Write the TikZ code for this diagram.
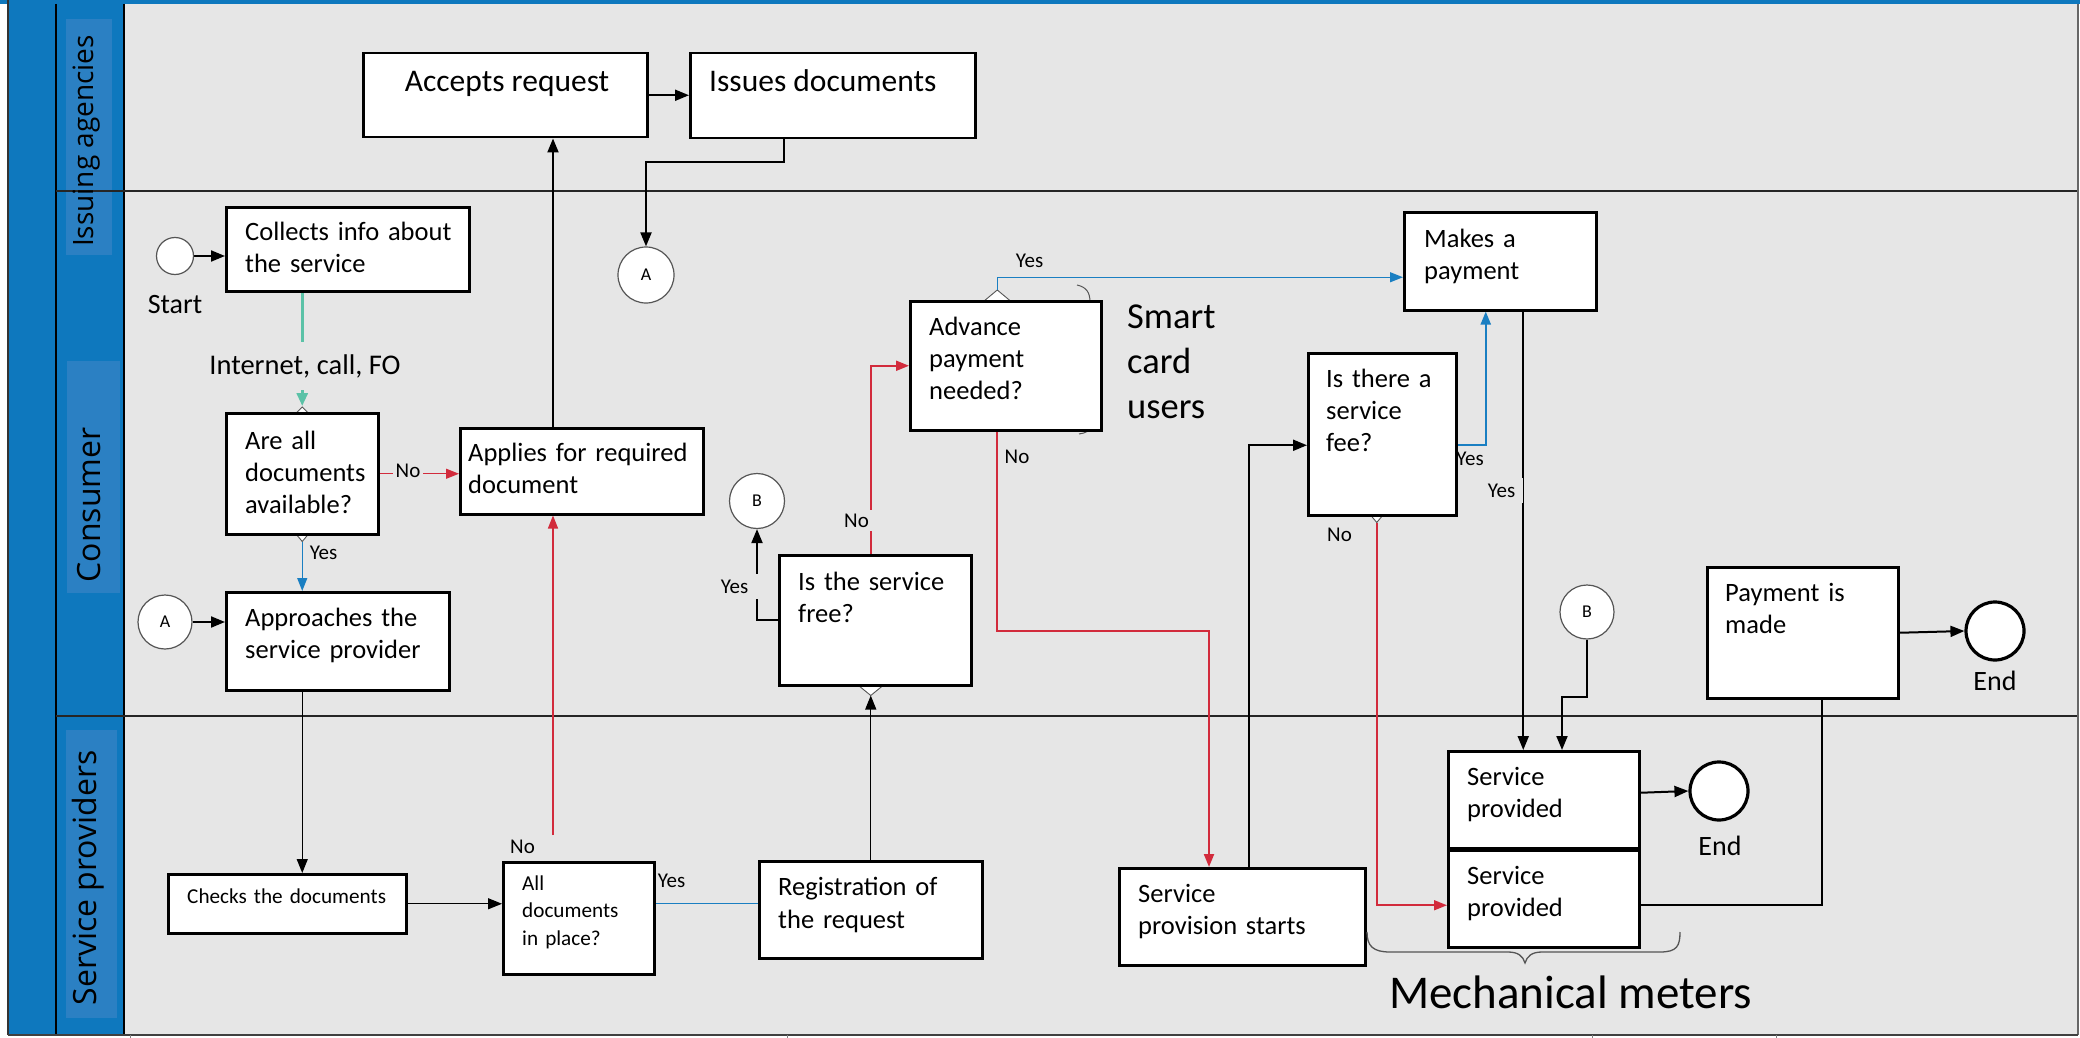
\documentclass[tikz,border=0pt]{standalone}
\usepackage{fontspec}
\setmainfont{Carlito}
\newfontfamily\lanefont{Open Sans}
\usetikzlibrary{arrows.meta,calc}
\definecolor{bggray}{HTML}{E6E6E6}
\definecolor{laneblue}{HTML}{0E78BE}
\definecolor{patchblue}{HTML}{2B80C3}
\definecolor{flowred}{HTML}{D22B3C}
\definecolor{flowblue}{HTML}{1A7FC2}
\definecolor{flowteal}{HTML}{5BC2A7}
\definecolor{circgray}{HTML}{555555}
\pgfdeclarelayer{lanes}
\pgfdeclarelayer{conn}
\pgfsetlayers{lanes,conn,main}
\newcommand{\flowbox}[5]{\node[box,minimum width={(#4)-(#2)},minimum height={(#5)-(#3)}] (#1) at (#2,#3) {};}
\newcommand{\dmd}[3]{\draw[dmdst] (#1) ++(-#2,0) -- ++(#2,-#3) -- ++(#2,#3) -- ++(-#2,#3) -- cycle;}
\begin{document}
\begin{tikzpicture}[x=1pt,y=-1pt,
  box/.style={draw=black,line width=2.5pt,fill=white,rectangle,inner sep=0pt,anchor=north west},
  txt/.style={font=\fontsize{26.5}{32}\selectfont,anchor=base west,inner sep=0pt,text width=260pt,align=left},
  smalltxt/.style={font=\fontsize{21.2}{27.5}\selectfont,anchor=base west,inner sep=0pt,text width=220pt,align=left},
  lbl/.style={font=\fontsize{21}{25}\selectfont,anchor=base,inner sep=0pt},
  gapfill/.style={fill=bggray},
  conncirc/.style={circle,draw=circgray,fill=white,line width=1.2pt,inner sep=0pt,font=\fontsize{18}{20}\selectfont},
  endcirc/.style={circle,draw=black,fill=white,line width=3.2pt,inner sep=0pt,minimum size=58pt},
  tip/.style={-{Triangle[length=14pt,width=11pt]}},
  arr/.style={draw=black,line width=2pt,tip},
  thinarr/.style={draw=black,line width=1.2pt,tip},
  plainline/.style={draw=black,line width=2pt},
  redthin/.style={draw=flowred,line width=1.2pt,-{Triangle[length=13pt,width=10pt]}},
  redthick/.style={draw=flowred,line width=2pt,-{Triangle[length=13pt,width=10pt]}},
  bluethin/.style={draw=flowblue,line width=1.3pt},
  bluethick/.style={draw=flowblue,line width=2pt},
  dmdst/.style={draw=circgray,fill=white,line width=0.9pt},
  lanelabel/.style={font=\lanefont,rotate=90,inner sep=0pt,text=black}
]
\useasboundingbox (0,0) rectangle (2080,1038);

% ---------------- lanes ----------------
\begin{pgfonlayer}{lanes}
  \fill[white] (0,0) rectangle (2080,1038);
  \fill[bggray] (124,4) rectangle (2078,1035);
  \fill[laneblue] (8,0) rectangle (124,1035);
  \fill[laneblue] (0,0) rectangle (2080,4);
  \fill[patchblue] (66,19) rectangle (112,255);
  \fill[patchblue] (67,361) rectangle (120,593);
  \fill[patchblue] (66,730) rectangle (117,1018);
  \draw[black!80,line width=1.5pt] (8,0) -- (8,1035);
  \draw[black,line width=1.8pt] (56,4) -- (56,1035);
  \draw[black,line width=1.8pt] (124,4) -- (124,1035);
  \draw[black!85,line width=1.8pt] (56,191) -- (2078,191);
  \draw[black!85,line width=1.8pt] (56,716) -- (2078,716);
  \draw[black!60,line width=1.2pt] (2078,4) -- (2078,1035);
  \draw[black!75,line width=1.5pt] (8,1035) -- (2078,1035);
  \foreach \tx in {130,787,1592,1776} \draw[black!50,line width=0.8pt] (\tx,1035) -- (\tx,1038);
\end{pgfonlayer}

\node[lanelabel,font=\lanefont\fontsize{28}{30}\selectfont] (lane1) at (87,141) {Issuing agencies};
\node[lanelabel,font=\lanefont\fontsize{32}{34}\selectfont] (lane2) at (89,505) {Consumer};
\node[lanelabel,font=\lanefont\fontsize{32}{34}\selectfont] (lane3) at (88.5,878) {Service providers};

% ---------------- boxes ----------------
\flowbox{accepts}{362}{52}{646}{136}
\flowbox{issues}{689}{52}{974}{137}
\flowbox{collects}{225}{206}{468}{290}
\flowbox{areall}{225}{412}{377}{533}
\flowbox{applies}{459}{427}{702}{513}
\flowbox{approaches}{225}{591}{448}{689}
\flowbox{checks}{167}{873}{405}{932}
\flowbox{alldocs}{502}{861}{653}{973}
\flowbox{registration}{758}{860}{981}{957}
\flowbox{free}{778}{554}{970}{684}
\flowbox{advance}{909}{300}{1100}{429}
\flowbox{makes}{1403}{211}{1595}{309}
\flowbox{fee}{1307}{352}{1455}{514}
\flowbox{sps}{1118}{867}{1364}{964}
\flowbox{spu}{1447}{750}{1638}{847}
\flowbox{spl}{1447}{849}{1638}{946}
\flowbox{payment}{1706}{566}{1897}{697}

% circles
\node[conncirc,minimum size=37pt] (start) at (175,256) {};
\node[conncirc,minimum size=56pt] (Aup) at (646,275) {A};
\node[conncirc,minimum size=54pt] (Alow) at (165,622) {A};
\node[conncirc,minimum size=55pt] (Bup) at (757,501) {B};
\node[conncirc,minimum size=54pt] (Bright) at (1587,612) {B};
\node[endcirc] (end1) at (1719,791) {};
\node[endcirc] (end2) at (1995,631) {};

% box texts
\node[anchor=base,inner sep=0pt,font=\fontsize{31.5}{36}\selectfont] (t-accepts) at (507,92) {Accepts request};
\node[anchor=base west,inner sep=0pt,font=\fontsize{31.5}{36}\selectfont] (t-issues) at (709,92) {Issues documents};
\node[txt] (t-collects) at (245,240) {Collects info about\\the service};
\node[txt] (t-areall) at (245,449) {Are all\\documents\\available?};
\node[txt] (t-applies) at (468,461) {Applies for required\\document};
\node[txt] (t-approaches) at (245,626) {Approaches the\\service provider};
\node[txt] (t-advance) at (929,335) {Advance\\payment\\needed?};
\node[txt] (t-free) at (798,590) {Is the service\\free?};
\node[txt] (t-makes) at (1424,247) {Makes a\\payment};
\node[txt] (t-fee) at (1326,387) {Is there a\\service\\fee?};
\node[txt] (t-payment) at (1725,601) {Payment is\\made};
\node[txt,font=\fontsize{26.5}{33}\selectfont] (t-registration) at (778,895) {Registration of\\the request};
\node[txt] (t-sps) at (1138,902) {Service\\provision starts};
\node[txt] (t-spu) at (1467,785) {Service\\provided};
\node[txt] (t-spl) at (1467,884) {Service\\provided};
\node[smalltxt] (t-checks) at (187,903) {Checks the documents};
\node[smalltxt] (t-alldocs) at (522,890) {All\\documents\\in place?};

% free texts
\node[anchor=base,inner sep=0pt,font=\fontsize{28}{32}\selectfont] (t-start) at (175,313) {Start};
\node[anchor=base,inner sep=0pt,font=\fontsize{28}{32}\selectfont] (t-end1) at (1720,855) {End};
\node[anchor=base,inner sep=0pt,font=\fontsize{28}{32}\selectfont] (t-end2) at (1995,690) {End};
\node[anchor=base west,inner sep=0pt,text width=200pt,align=left,font=\fontsize{36.5}{45}\selectfont] (t-smart) at (1127,328) {Smart\\card\\users};
\node[anchor=base west,inner sep=0pt,font=\fontsize{47}{52}\selectfont] (t-mech) at (1389,1008) {Mechanical meters};

% brace under service provided
\draw[circgray,line width=1.3pt] (1367,932) .. controls (1367,946) and (1373,952) .. (1390,952) -- (1508,952) .. controls (1518,952) and (1523,956) .. (1525,963) .. controls (1527,956) and (1532,952) .. (1542,952) -- (1660,952) .. controls (1677,952) and (1680,946) .. (1680,932);

% ---------------- connectors ----------------
\coordinate (cx) at (553,0);
\coordinate (ib) at (784,162);
\coordinate (nostart) at (553,835);
\coordinate (rb) at (1209,631);
\coordinate (bb) at (1562,697);

\begin{pgfonlayer}{conn}
  % smart card bracket (partly hidden)
  \draw[circgray,line width=1pt] (1077,285) .. controls (1086,287) and (1090,292) .. (1090,302) -- (1090,426) .. controls (1090,431) and (1086,433) .. (1079,434);
  % diamonds
  \dmd{areall.north}{5}{5}
  \dmd{areall.south}{5}{6}
  \dmd{$(advance.north)+(-8.5,0)$}{12}{10}
  \dmd{free.south -| registration.north}{11}{9}
  \dmd{$(fee.south)+(-5.5,0)$}{5}{6}

  \draw[arr] (start.east) -- (start.east -| collects.west);
  \draw[draw=flowteal,line width=3pt,-{Triangle[length=13pt,width=11pt]}] (collects.south -| areall.north) -- ([yshift=6pt]areall.north);
  \draw[redthin] (areall.east) -- (areall.east -| applies.west);
  \draw[bluethin,-{Triangle[length=13pt,width=10pt]}] ([yshift=-6pt]areall.south) -- (areall.south |- approaches.north);
  \draw[arr] (Alow.east) -- (Alow.east -| approaches.west);
  \draw[arr] (applies.north -| cx) -- (accepts.south -| cx);
  \draw[arr] (accepts.east) -- (accepts.east -| issues.west);
  \draw[arr] (issues.south -| ib) -- (ib) -| (Aup.north);
  \draw[thinarr] (approaches.south -| areall.south) -- (checks.north -| areall.south);
  \draw[thinarr] (checks.east) -- (checks.east -| alldocs.west);
  \draw[redthin] (nostart) -- (applies.south -| nostart);
  \draw[bluethin] (checks.east -| alldocs.east) -- (checks.east -| registration.west);
  \draw[thinarr] (registration.north) -- ([yshift=-9pt]registration.north |- free.south);
  \draw[arr] (free.west) -| (Bup.south);
  \draw[redthick] (free.north -| registration.north) |- (advance.west);
  \draw[bluethin,-{Triangle[length=13pt,width=10pt]}] ([xshift=-8.5pt,yshift=10pt]advance.north) |- ([yshift=-16pt]makes.west);
  \draw[redthick] ([xshift=-8.5pt]advance.south) |- (rb) -- (rb |- sps.north);
  \draw[arr] ([xshift=7pt]sps.north) |- ([yshift=-11pt]fee.west);
  \draw[bluethick,-{Triangle[length=13pt,width=10pt]}] ([yshift=-11pt]fee.east) -| ([xshift=-14.5pt]makes.south);
  \draw[arr] ([xshift=23pt]makes.south) -- ([xshift=23pt]makes.south |- spu.north);
  \draw[arr] (Bright.south) |- (bb) -- (bb |- spu.north);
  \draw[draw=flowred,line width=1.6pt,-{Triangle[length=13pt,width=10pt]}] ([xshift=-5.5pt,yshift=-6pt]fee.south) |- ([yshift=-6.5pt]spl.west);
  \draw[arr] ([yshift=7pt]spu.east) -- (end1.west);
  \draw[plainline] ([yshift=-6.5pt]spl.east) -| ([xshift=19.5pt]payment.south);
  \draw[arr] (payment.east) -- (end2.west);
\end{pgfonlayer}

% connector labels
\node[anchor=base,inner xsep=2pt,inner ysep=12pt,gapfill,font=\fontsize{28.5}{32}\selectfont] (l-internet) at (305,374) {Internet, call, FO};
\node[lbl,gapfill,inner xsep=3pt,inner ysep=2pt] (l-no1) at (408,477) {No};
\node[lbl] (l-yes1) at (323.5,559) {Yes};
\node[lbl] (l-no2) at (522.5,853) {No};
\node[lbl] (l-yes2) at (671.5,887) {Yes};
\node[lbl,gapfill,inner xsep=11pt,inner ysep=6pt] (l-yes3) at (734.5,593) {Yes};
\node[lbl,gapfill,inner xsep=5pt,inner ysep=4pt] (l-no3) at (856.5,527) {No};
\node[lbl] (l-yes4) at (1029.5,267) {Yes};
\node[lbl] (l-no4) at (1017,463) {No};
\node[lbl] (l-yes5) at (1470,465) {Yes};
\node[lbl,gapfill,inner xsep=8pt,inner ysep=6pt] (l-yes6) at (1501.5,497) {Yes};
\node[lbl] (l-no5) at (1339.5,541) {No};
\end{tikzpicture}
\end{document}
